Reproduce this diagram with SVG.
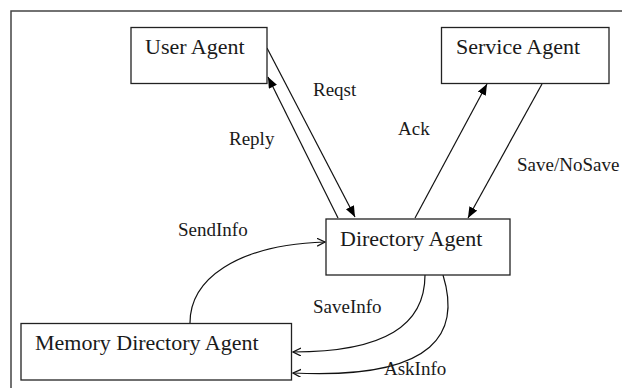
<svg xmlns="http://www.w3.org/2000/svg" width="622" height="388" viewBox="0 0 622 388">
<style>
.box{fill:#fff;stroke:#222;stroke-width:1.3}
.nt{font-family:"Liberation Serif","Times New Roman",serif;font-size:22px;fill:#1a1a1a}
.lt{font-family:"Liberation Serif","Times New Roman",serif;font-size:19px;fill:#1a1a1a}
.ln{fill:none;stroke:#111;stroke-width:1.2}
</style>
<defs>
<marker id="tri" markerUnits="userSpaceOnUse" markerWidth="12" markerHeight="10" refX="11" refY="4.5" orient="auto">
<path d="M0,0 L11,4.5 L0,9 Z" fill="#000"/>
</marker>
<marker id="vee" markerUnits="userSpaceOnUse" markerWidth="10" markerHeight="10" refX="8" refY="4" orient="auto">
<path d="M0,0 L8,4 L0,8" fill="none" stroke="#111" stroke-width="1.3"/>
</marker>
</defs>
<path d="M11,388 V11 H622" fill="none" stroke="#444" stroke-width="1.5"/>
<g id="connectors">
<line class="ln" x1="267" y1="48" x2="355" y2="217" marker-end="url(#tri)"/>
<line class="ln" x1="338" y1="218" x2="268" y2="77" marker-end="url(#tri)"/>
<line class="ln" x1="415" y1="218" x2="487" y2="84" marker-end="url(#tri)"/>
<line class="ln" x1="542" y1="84" x2="468" y2="218" marker-end="url(#tri)"/>
<path class="ln" d="M190,323 C190,280 235,245 325,242" marker-end="url(#vee)"/>
<path class="ln" d="M425,275 C425,325 385,352 293,352" stroke-width="1.6" marker-end="url(#vee)"/>
<path class="ln" d="M443,275 C460,330 440,380 293,373" marker-end="url(#vee)"/>
<text class="lt" x="313" y="96">Reqst</text>
<text class="lt" x="229" y="145">Reply</text>
<text class="lt" x="398" y="135">Ack</text>
<text class="lt" x="517" y="171">Save/NoSave</text>
<text class="lt" x="178" y="236">SendInfo</text>
<text class="lt" x="313" y="313">SaveInfo</text>
<text class="lt" x="384" y="375">AskInfo</text>
</g>
<g id="user-agent">
<rect class="box" x="131" y="27.5" width="136" height="56"/>
<text class="nt" x="145" y="54">User Agent</text>
</g>
<g id="service-agent">
<rect class="box" x="441.5" y="27.5" width="167.5" height="56"/>
<text class="nt" x="456" y="54">Service Agent</text>
</g>
<g id="directory-agent">
<rect class="box" x="326" y="219" width="184" height="56"/>
<text class="nt" x="340" y="246">Directory Agent</text>
</g>
<g id="memory-directory-agent">
<rect class="box" x="21" y="323.5" width="270.5" height="56.5"/>
<text class="nt" x="35" y="350">Memory Directory Agent</text>
</g>
</svg>
